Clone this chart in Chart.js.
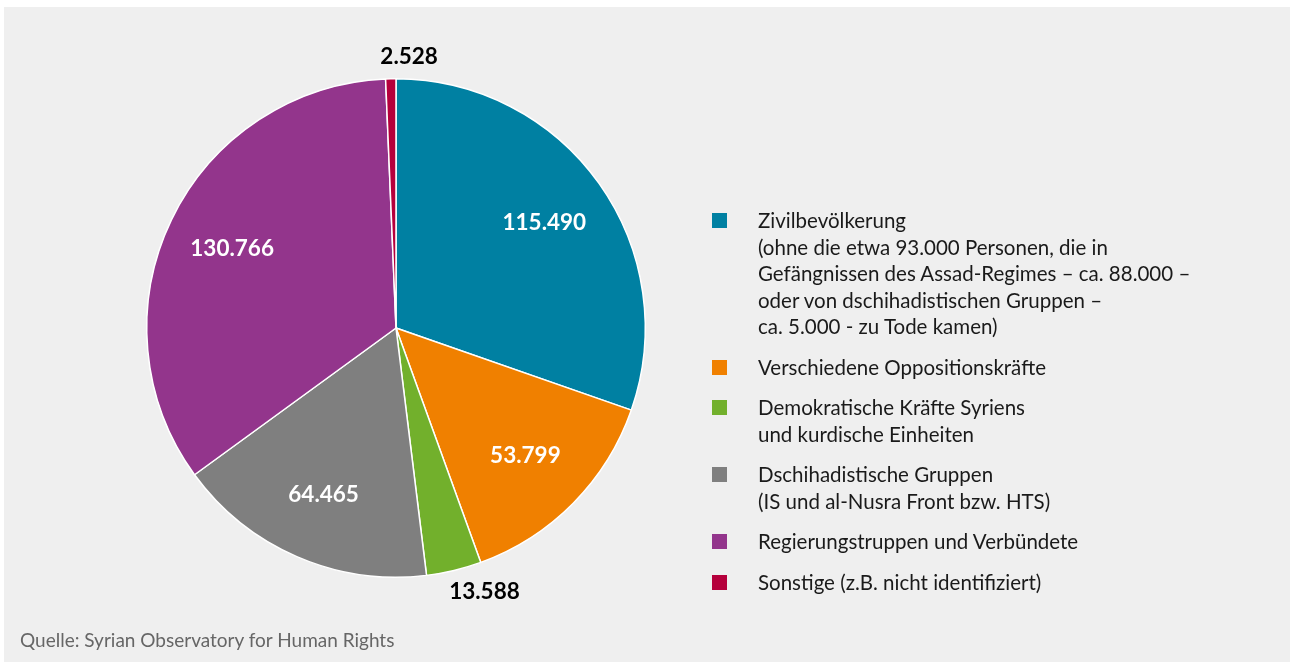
<!DOCTYPE html>
<html lang="de">
<head>
<meta charset="utf-8">
<script src="https://cdn.jsdelivr.net/npm/chart.js@4.4.1/dist/chart.umd.min.js"></script>
<style>
  html, body { margin: 0; padding: 0; background: #fff; }
  body { width: 1290px; height: 662px; position: relative; overflow: hidden; font-family: Lato, "Open Sans", sans-serif; }
  #panel { position: absolute; left: 4px; top: 7px; right: 0; bottom: 0; background: #efefef; }
  #wrap { position: absolute; left: 0; top: 0; width: 1290px; height: 662px; }
  #legend { position: absolute; left: 712px; top: 207px; color: #1a1a1a; font-size: 20.5px; line-height: 26.5px; }
  .item { position: relative; padding-left: 46px; margin-bottom: 14px; }
  .sw { position: absolute; left: 0; top: 6px; width: 15px; height: 15px; }
  #source { position: absolute; left: 20px; top: 628px; color: #666; font-size: 19px; }
</style>
</head>
<body>
<div id="panel"></div>
<div id="wrap"><canvas id="pie"></canvas></div>
<div id="legend"></div>
<div id="source">Quelle: Syrian Observatory for Human Rights</div>
<script>
// Opfer nach Gruppen
const labels = [
  ["Zivilbevölkerung", "(ohne die etwa 93.000 Personen, die in", "Gefängnissen des Assad-Regimes – ca. 88.000 –", "oder von dschihadistischen Gruppen –", "ca. 5.000 - zu Tode kamen)"],
  ["Verschiedene Oppositionskräfte"],
  ["Demokratische Kräfte Syriens", "und kurdische Einheiten"],
  ["Dschihadistische Gruppen", "(IS und al-Nusra Front bzw. HTS)"],
  ["Regierungstruppen und Verbündete"],
  ["Sonstige (z.B. nicht identifiziert)"]
];
const values = [115490, 53799, 13588, 64465, 130766, 2528];
const colors = ["#0080a2", "#f08000", "#72b02c", "#7f7f7f", "#93358c", "#b5003c"];

function fmt(n) {
  return String(n).replace(/\B(?=(\d{3})+(?!\d))/g, ".");
}

// legend as html, multi-line entries
const legend = document.getElementById("legend");
labels.forEach((lines, i) => {
  const div = document.createElement("div");
  div.className = "item";
  div.innerHTML = '<span class="sw" style="background:' + colors[i] + '"></span>' + lines.join("<br>");
  legend.appendChild(div);
});

// value labels: big slices inside in white, tiny ones outside in black
const valueLabels = {
  id: "valueLabels",
  afterDatasetsDraw(chart) {
    const ctx = chart.ctx;
    const meta = chart.getDatasetMeta(0);
    const total = values.reduce((a, b) => a + b, 0);
    ctx.save();
    ctx.font = "bold 22.5px Lato, 'Open Sans', sans-serif";
    ctx.textBaseline = "middle";
    meta.data.forEach((arc, i) => {
      const p = arc.getProps(["x", "y", "startAngle", "endAngle", "outerRadius"], true);
      const mid = (p.startAngle + p.endAngle) / 2;
      const small = values[i] / total < 0.05;
      if (small) {
        const d = p.outerRadius + 22;
        ctx.fillStyle = "#000";
        ctx.textAlign = "left";
        ctx.fillText(fmt(values[i]), p.x + Math.cos(mid) * d - 10, p.y + Math.sin(mid) * d);
      } else {
        const d = p.outerRadius * 0.73;
        ctx.fillStyle = "#fff";
        ctx.textAlign = "center";
        ctx.fillText(fmt(values[i]), p.x + Math.cos(mid) * d, p.y + Math.sin(mid) * d);
      }
    });
    ctx.restore();
  }
};

new Chart(document.getElementById("pie"), {
  type: "pie",
  data: {
    labels: labels.map(l => l[0]),
    datasets: [{
      data: values,
      backgroundColor: colors,
      borderColor: "#ffffff",
      borderWidth: 1.5
    }]
  },
  options: {
    responsive: true,
    maintainAspectRatio: false,
    animation: false,
    layout: { padding: { left: 146, right: 644, top: 78, bottom: 84 } },
    plugins: {
      legend: { display: false },
      tooltip: { enabled: false }
    }
  },
  plugins: [valueLabels]
});
</script>
</body>
</html>
